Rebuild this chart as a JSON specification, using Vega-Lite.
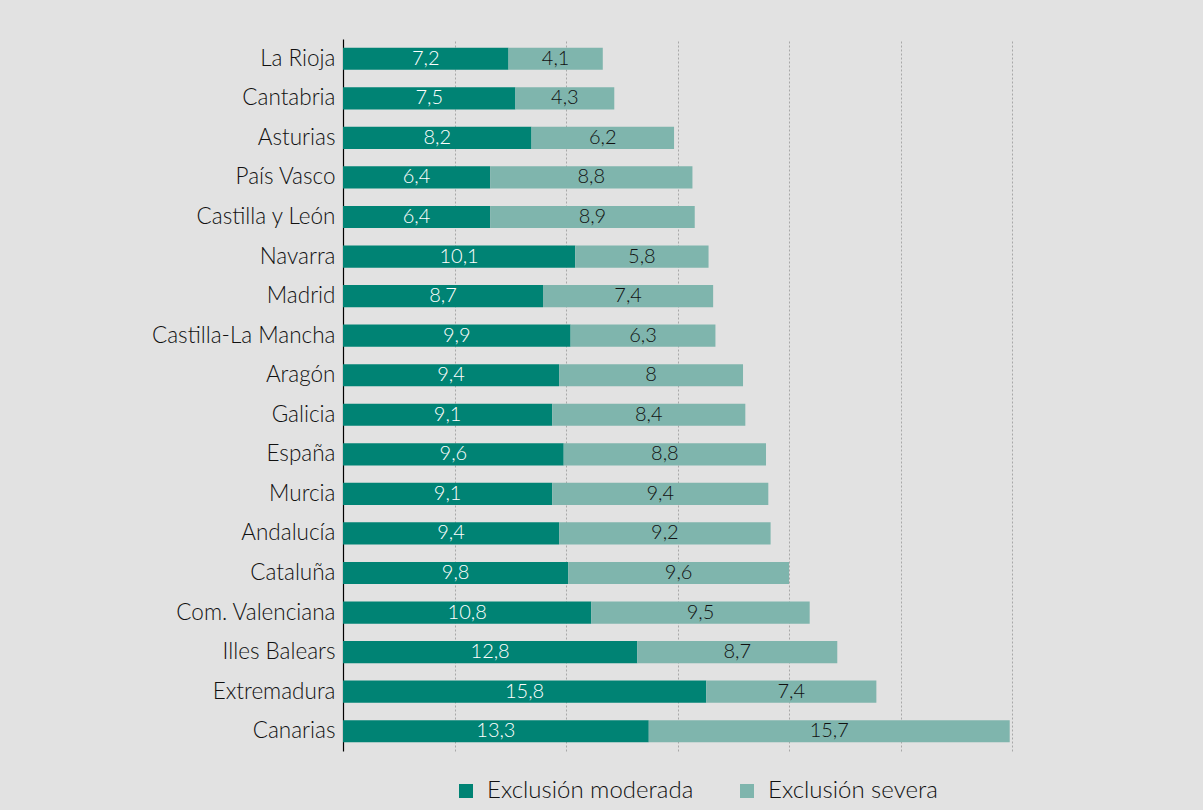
{
  "$schema": "https://vega.github.io/schema/vega-lite/v6.json",
  "width": 669,
  "height": 712,
  "autosize": {"type": "none"},
  "padding": {"left": 343, "top": 39, "right": 191, "bottom": 59},
  "background": "#e2e2e2",
  "config": {
    "view": {"stroke": null},
    "font": "Lato",
    "locale": {"number": {"decimal": ",", "thousands": ".", "grouping": [3], "currency": ["", " €"]}}
  },
  "data": {
    "values": [
      {"region": "La Rioja", "tipo": "Exclusión moderada", "valor": 7.2},
      {"region": "La Rioja", "tipo": "Exclusión severa", "valor": 4.1},
      {"region": "Cantabria", "tipo": "Exclusión moderada", "valor": 7.5},
      {"region": "Cantabria", "tipo": "Exclusión severa", "valor": 4.3},
      {"region": "Asturias", "tipo": "Exclusión moderada", "valor": 8.2},
      {"region": "Asturias", "tipo": "Exclusión severa", "valor": 6.2},
      {"region": "País Vasco", "tipo": "Exclusión moderada", "valor": 6.4},
      {"region": "País Vasco", "tipo": "Exclusión severa", "valor": 8.8},
      {"region": "Castilla y León", "tipo": "Exclusión moderada", "valor": 6.4},
      {"region": "Castilla y León", "tipo": "Exclusión severa", "valor": 8.9},
      {"region": "Navarra", "tipo": "Exclusión moderada", "valor": 10.1},
      {"region": "Navarra", "tipo": "Exclusión severa", "valor": 5.8},
      {"region": "Madrid", "tipo": "Exclusión moderada", "valor": 8.7},
      {"region": "Madrid", "tipo": "Exclusión severa", "valor": 7.4},
      {"region": "Castilla-La Mancha", "tipo": "Exclusión moderada", "valor": 9.9},
      {"region": "Castilla-La Mancha", "tipo": "Exclusión severa", "valor": 6.3},
      {"region": "Aragón", "tipo": "Exclusión moderada", "valor": 9.4},
      {"region": "Aragón", "tipo": "Exclusión severa", "valor": 8},
      {"region": "Galicia", "tipo": "Exclusión moderada", "valor": 9.1},
      {"region": "Galicia", "tipo": "Exclusión severa", "valor": 8.4},
      {"region": "España", "tipo": "Exclusión moderada", "valor": 9.6},
      {"region": "España", "tipo": "Exclusión severa", "valor": 8.8},
      {"region": "Murcia", "tipo": "Exclusión moderada", "valor": 9.1},
      {"region": "Murcia", "tipo": "Exclusión severa", "valor": 9.4},
      {"region": "Andalucía", "tipo": "Exclusión moderada", "valor": 9.4},
      {"region": "Andalucía", "tipo": "Exclusión severa", "valor": 9.2},
      {"region": "Cataluña", "tipo": "Exclusión moderada", "valor": 9.8},
      {"region": "Cataluña", "tipo": "Exclusión severa", "valor": 9.6},
      {"region": "Com. Valenciana", "tipo": "Exclusión moderada", "valor": 10.8},
      {"region": "Com. Valenciana", "tipo": "Exclusión severa", "valor": 9.5},
      {"region": "Illes Balears", "tipo": "Exclusión moderada", "valor": 12.8},
      {"region": "Illes Balears", "tipo": "Exclusión severa", "valor": 8.7},
      {"region": "Extremadura", "tipo": "Exclusión moderada", "valor": 15.8},
      {"region": "Extremadura", "tipo": "Exclusión severa", "valor": 7.4},
      {"region": "Canarias", "tipo": "Exclusión moderada", "valor": 13.3},
      {"region": "Canarias", "tipo": "Exclusión severa", "valor": 15.7}
    ]
  },
  "transform": [
    {"stack": "valor", "groupby": ["region"], "sort": [{"field": "tipo", "order": "ascending"}], "as": ["v0", "v1"]},
    {"calculate": "(datum.v0 + datum.v1) / 2", "as": "mid"}
  ],
  "encoding": {
    "y": {
      "field": "region",
      "type": "nominal",
      "sort": null,
      "scale": {"paddingInner": 0.44, "paddingOuter": 0.22},
      "axis": {
        "title": null,
        "ticks": false,
        "labelPadding": 8,
        "labelFontSize": 22.5,
        "labelFontWeight": 300,
        "labelLimit": 300,
        "labelColor": "#111111",
        "domainColor": "#000000",
        "domainWidth": 1.2,
        "grid": false
      }
    }
  },
  "layer": [
    {
      "mark": {"type": "bar"},
      "encoding": {
        "x": {
          "field": "v0",
          "type": "quantitative",
          "scale": {"domain": [0, 29.1], "nice": false},
          "axis": {
            "title": null,
            "labels": false,
            "ticks": false,
            "domain": false,
            "grid": true,
            "gridDash": [2, 2],
            "gridColor": "#a8a8a8",
            "values": [4.85, 9.7, 14.55, 19.4, 24.25, 29.1]
          }
        },
        "x2": {"field": "v1"},
        "color": {
          "field": "tipo",
          "type": "nominal",
          "scale": {"domain": ["Exclusión moderada", "Exclusión severa"], "range": ["#008374", "#7fb5ad"]},
          "legend": {
            "title": null,
            "orient": "none",
            "direction": "horizontal",
            "legendX": 111,
            "legendY": 740,
            "symbolType": "square",
            "symbolSize": 196,
            "symbolStrokeWidth": 0,
            "labelFontSize": 24,
            "labelFontWeight": 300,
            "labelLimit": 400,
            "labelColor": "#111111",
            "labelOffset": 9,
            "columnPadding": 41
          }
        }
      }
    },
    {
      "transform": [{"filter": "datum.tipo === 'Exclusión moderada'"}],
      "mark": {"type": "text", "color": "#ffffff", "fontSize": 20, "fontWeight": 300, "baseline": "middle", "align": "center"},
      "encoding": {
        "x": {"field": "mid", "type": "quantitative"},
        "text": {"field": "valor", "type": "quantitative", "format": ".1~f"}
      }
    },
    {
      "transform": [{"filter": "datum.tipo === 'Exclusión severa'"}],
      "mark": {"type": "text", "color": "#111111", "fontSize": 20, "fontWeight": 300, "baseline": "middle", "align": "center"},
      "encoding": {
        "x": {"field": "mid", "type": "quantitative"},
        "text": {"field": "valor", "type": "quantitative", "format": ".1~f"}
      }
    }
  ]
}
